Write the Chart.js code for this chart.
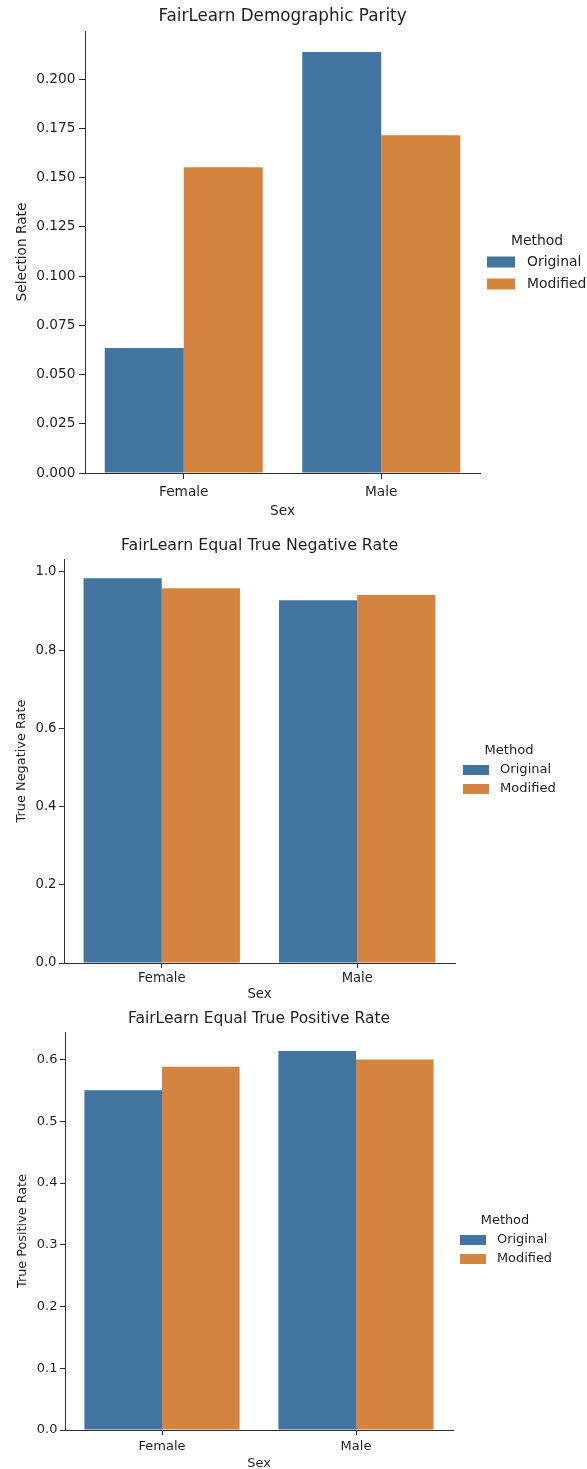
<!DOCTYPE html>
<html>
<head>
<meta charset="utf-8">
<script src="https://cdn.jsdelivr.net/npm/chart.js@4.4.1/dist/chart.umd.min.js"></script>
<style>
  html, body { margin: 0; padding: 0; background: #fff; }
  body { width: 587px; height: 1469px; position: relative; overflow: hidden; }
  .box { position: absolute; left: 0; width: 587px; }
</style>
</head>
<body>
<div class="box" style="top:0px;height:520px;"><canvas id="c1"></canvas></div>
<div class="box" style="top:520px;height:480px;"><canvas id="c2"></canvas></div>
<div class="box" style="top:1000px;height:469px;"><canvas id="c3"></canvas></div>
<script>
// ---- data ----
const categories = ['Female', 'Male'];
const methods = ['Original', 'Modified'];
const legendTitle = 'Method';
const xAxisTitle = 'Sex';

const parityOriginal = [0.0634, 0.2137];
const parityModified = [0.1552, 0.1714];
const parityTicks = [0, 0.025, 0.05, 0.075, 0.1, 0.125, 0.15, 0.175, 0.2];

const tnrOriginal = [0.9838, 0.9274];
const tnrModified = [0.9580, 0.9410];
const tnrTicks = [0, 0.2, 0.4, 0.6, 0.8, 1.0];

const tprOriginal = [0.5503, 0.6140];
const tprModified = [0.5886, 0.6000];
const tprTicks = [0, 0.1, 0.2, 0.3, 0.4, 0.5, 0.6];

const colors = ['#41749f', '#d5843f'];
const FONT = "'DejaVu Sans', sans-serif";
const TEXT = '#1f1f1f';
const AXIS = '#2e2e2e';

function makeChart(id, cfg) {
  const titlePlugin = {
    id: 'customTitle',
    afterDraw(chart) {
      const ctx = chart.ctx, ca = chart.chartArea;
      ctx.save();
      ctx.fillStyle = TEXT;
      ctx.font = cfg.titleSize + 'px ' + FONT;
      ctx.textAlign = 'center';
      ctx.textBaseline = 'middle';
      ctx.fillText(cfg.title, (ca.left + ca.right) / 2, cfg.titleY);
      ctx.restore();
    }
  };
  const legendPlugin = {
    id: 'customLegend',
    afterDraw(chart) {
      const ctx = chart.ctx;
      const lg = cfg.legend;
      ctx.save();
      ctx.fillStyle = TEXT;
      ctx.font = lg.size + 'px ' + FONT;
      ctx.textBaseline = 'middle';
      ctx.textAlign = 'center';
      ctx.fillText(legendTitle, lg.titleX, lg.titleY);
      chart.data.datasets.forEach((ds, i) => {
        const y = lg.itemY[i];
        ctx.fillStyle = ds.backgroundColor;
        ctx.fillRect(lg.boxX, y - lg.boxH / 2, lg.boxW, lg.boxH);
        ctx.fillStyle = TEXT;
        ctx.textAlign = 'left';
        ctx.fillText(ds.label, lg.textX, y);
      });
      ctx.restore();
    }
  };
  const W = 587;
  return new Chart(document.getElementById(id), {
    type: 'bar',
    data: {
      labels: categories,
      datasets: methods.map((m, i) => ({
        label: m,
        data: cfg.series[i],
        backgroundColor: colors[i],
        borderWidth: 0,
        categoryPercentage: 0.8,
        barPercentage: 1.0
      }))
    },
    options: {
      responsive: true,
      maintainAspectRatio: false,
      animation: false,
      events: [],
      layout: { padding: { left: 0, top: cfg.top, right: W - cfg.right, bottom: 0 } },
      plugins: { legend: { display: false }, tooltip: { enabled: false }, title: { display: false } },
      scales: {
        x: {
          type: 'category',
          offset: true,
          grid: { display: true, offset: false, drawOnChartArea: false, drawTicks: true, tickLength: cfg.tickLen, color: AXIS, lineWidth: 1 },
          border: { display: true, color: AXIS, width: 1 },
          ticks: { color: TEXT, font: { family: FONT, size: cfg.tickSize }, padding: cfg.xTickPad, maxRotation: 0 },
          title: { display: true, text: xAxisTitle, color: TEXT, font: { family: FONT, size: cfg.tickSize }, padding: { top: 0, bottom: cfg.xTitlePad } },
          afterFit(scale) { scale.height = cfg.height - cfg.bottom; }
        },
        y: {
          type: 'linear',
          min: 0,
          max: Math.max(...cfg.series.flat()) * 1.05,
          afterBuildTicks(scale) { scale.ticks = cfg.ticks.map(v => ({ value: v })); },
          grid: { display: true, drawOnChartArea: false, drawTicks: true, tickLength: cfg.tickLen, color: AXIS, lineWidth: 1 },
          border: { display: true, color: AXIS, width: 1 },
          ticks: {
            color: TEXT, font: { family: FONT, size: cfg.tickSize }, padding: cfg.yTickPad,
            callback: (v) => Number(v).toFixed(cfg.decimals)
          },
          title: { display: true, text: cfg.yTitle, color: TEXT, font: { family: FONT, size: cfg.yTitleSize }, padding: { top: cfg.yTitlePad, bottom: 0 } },
          afterFit(scale) { scale.width = cfg.left; }
        }
      }
    },
    plugins: [titlePlugin, legendPlugin]
  });
}

makeChart('c1', {
  title: 'FairLearn Demographic Parity', titleSize: 16.8, titleY: 17,
  series: [parityOriginal, parityModified], ticks: parityTicks, decimals: 3,
  yTitle: 'Selection Rate', yTitleSize: 13.7, yTitlePad: 14,
  height: 520, left: 85, right: 480, top: 31, bottom: 473,
  tickSize: 13.7, tickLen: 6, yTickPad: 3.5, xTickPad: 5, xTitlePad: 0,
  legend: { size: 13.9, titleX: 537, titleY: 241, boxX: 487, boxW: 28, boxH: 11, itemY: [262, 284], textX: 527 }
});

makeChart('c2', {
  title: 'FairLearn Equal True Negative Rate', titleSize: 15.8, titleY: 26,
  series: [tnrOriginal, tnrModified], ticks: tnrTicks, decimals: 1,
  yTitle: 'True Negative Rate', yTitleSize: 12.9, yTitlePad: 13.5,
  height: 480, left: 64, right: 455, top: 39, bottom: 443,
  tickSize: 13.2, tickLen: 5, yTickPad: 2.5, xTickPad: 3, xTitlePad: -2,
  legend: { size: 13.1, titleX: 509, titleY: 231, boxX: 463, boxW: 26, boxH: 10, itemY: [250, 269], textX: 500 }
});

makeChart('c3', {
  title: 'FairLearn Equal True Positive Rate', titleSize: 15.5, titleY: 19,
  series: [tprOriginal, tprModified], ticks: tprTicks, decimals: 1,
  yTitle: 'True Positive Rate', yTitleSize: 12.8, yTitlePad: 14.5,
  height: 469, left: 65, right: 453, top: 32, bottom: 430,
  tickSize: 13.0, tickLen: 5, yTickPad: 2.5, xTickPad: 4, xTitlePad: -2,
  legend: { size: 12.9, titleX: 505, titleY: 221, boxX: 460, boxW: 26, boxH: 10, itemY: [240, 259], textX: 497 }
});
</script>
</body>
</html>
